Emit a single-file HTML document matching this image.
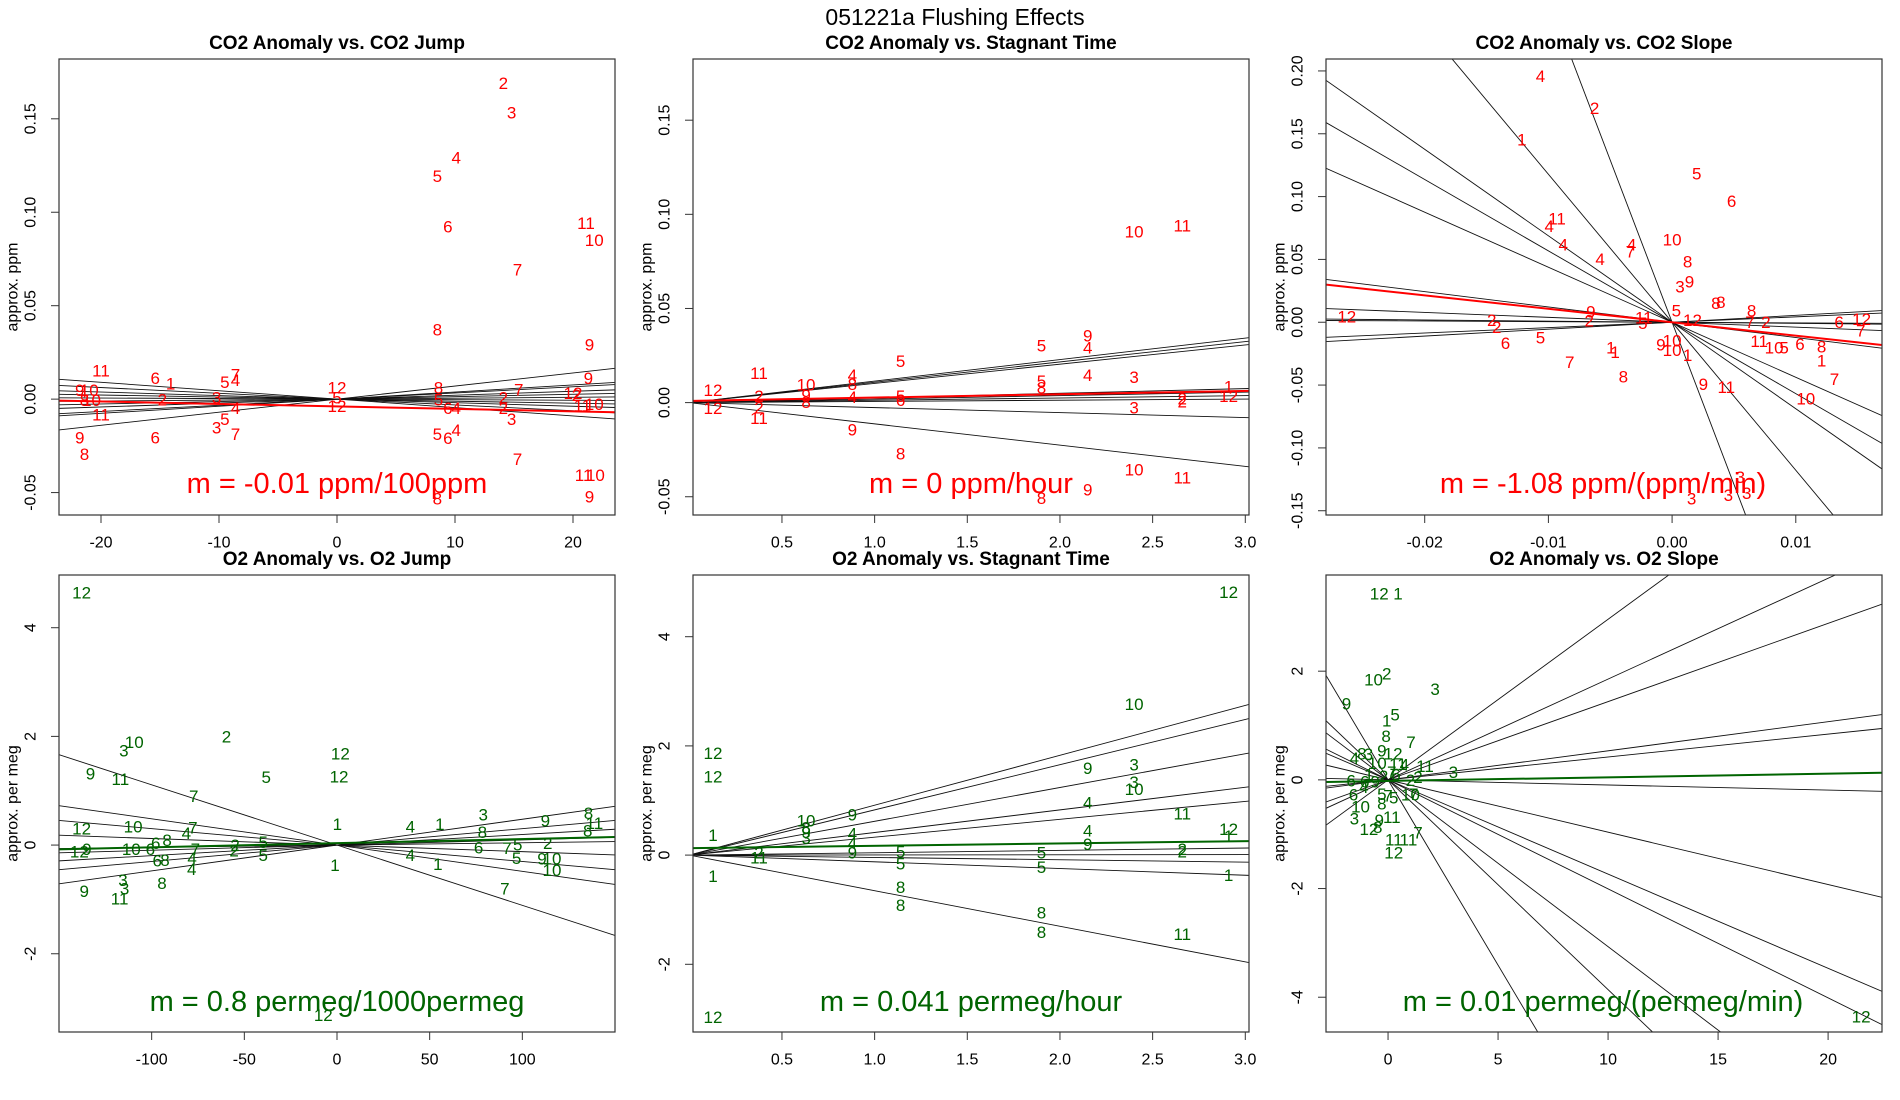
<!DOCTYPE html>
<html><head><meta charset="utf-8"><title>051221a Flushing Effects</title>
<style>
html,body{margin:0;padding:0;background:#fff;width:1900px;height:1100px;overflow:hidden;position:relative;}
svg{display:block;position:absolute;left:0;top:0;font-family:"Liberation Sans",sans-serif;overflow:hidden;}
</style></head>
<body>
<svg id="chart" width="1900" height="1100" viewBox="0 0 1900 1100" xmlns="http://www.w3.org/2000/svg">
<rect x="0" y="0" width="1900" height="1100" fill="#fff"/>
<text x="955" y="17" text-anchor="middle" dominant-baseline="central" font-size="23">051221a   Flushing Effects</text>
</svg>
<script>
// ---------- Panel 1: CO2 Anomaly vs. CO2 Jump ----------
const p1Labels = ["2","3","4","5","6","11","10","7","8","9","11","6","1","5","7","4","9","12","8","7","9","10","12","2","3","2","2","5","8","10","5","12","6","4","2","11","10","11","4","3","5","3","7","6","9","5","6","4","8","7","11","10","8","9"];
const p1X = [14.1,14.8,10.1,8.5,9.4,21.1,21.8,15.3,8.5,21.4,-20.0,-15.4,-14.1,-9.5,-8.6,-8.6,21.3,0,8.6,15.4,-21.8,-21.0,20.0,20.3,-10.2,-14.8,14.1,0,-21.4,-20.8,8.6,0,9.4,10.1,14.1,20.8,21.8,-20.0,-8.6,14.8,-9.5,-10.2,-8.6,-15.4,-21.8,8.5,9.4,10.1,-21.4,15.3,20.9,21.9,8.5,21.4];
const p1Y = [0.169,0.153,0.129,0.119,0.092,0.094,0.085,0.069,0.037,0.029,0.015,0.011,0.008,0.009,0.013,0.010,0.011,0.006,0.006,0.005,0.0045,0.0045,0.003,0.002,0.0006,-0.0004,0.0006,0.0006,-0.0008,-0.0008,-0.0004,-0.004,-0.005,-0.005,-0.005,-0.0036,-0.003,-0.0086,-0.005,-0.011,-0.011,-0.0154,-0.019,-0.0207,-0.0207,-0.019,-0.021,-0.0167,-0.0297,-0.0323,-0.0408,-0.0408,-0.0534,-0.0524];
const p1Slopes = [0.0007,0.00038,0.00033,0.00021,0.00013,0.00005,-0.00003,-0.00011,-0.00019,-0.00031,-0.00045];
const p1Fit = [-0.000132,-0.0039];

// ---------- Panel 2: CO2 Anomaly vs. Stagnant Time ----------
const p2Labels = ["10","11","9","5","4","5","4","3","11","10","4","8","5","8","12","1","2","4","5","6","2","2","12","12","2","3","11","9","8","10","11","9","8","9","8"];
const p2X = [2.40,2.66,2.15,1.90,2.15,1.14,2.15,2.40,0.376,0.63,0.88,0.88,1.90,1.90,0.128,2.91,0.376,0.88,1.14,1.14,2.66,2.66,2.91,0.128,0.376,2.40,0.376,0.88,1.14,2.40,2.66,2.15,1.90,0.63,0.63];
const p2Y = [0.0905,0.0937,0.0354,0.030,0.029,0.0218,0.0144,0.0134,0.0155,0.0093,0.0144,0.0097,0.0112,0.0078,0.0065,0.0084,0.0032,0.0028,0.0032,0.001,0.0019,0.0004,0.0032,-0.0032,-0.0028,-0.0028,-0.0084,-0.0146,-0.0274,-0.0358,-0.0401,-0.0463,-0.051,0.0037,0.0];
const p2Slopes = [0.01142,0.0108,0.0102,0.00248,0.00185,0.00123,0.00063,-0.00265,-0.0113];
const p2Fit = [0.00177,0.0009];

// ---------- Panel 3: CO2 Anomaly vs. CO2 Slope ----------
const p3Labels = ["4","2","1","5","6","11","4","10","4","4","7","4","8","9","3","8","8","8","5","12","2","9","2","11","5","12","2","7","2","6","12","7","5","6","11","10","5","6","8","1","1","9","10","10","1","1","7","8","7","9","11","10","3","3","3","3"];
const p3X = [-0.01064,-0.00626,-0.01215,0.00199,0.00481,-0.0093,-0.00993,0,-0.0088,-0.00327,-0.00337,-0.00582,0.00125,0.00141,0.00064,0.00354,0.00394,0.00643,0.00034,-0.0263,-0.01458,-0.00657,-0.0067,-0.00229,-0.00236,0.00165,0.00758,0.0063,-0.01418,0.0135,0.01532,0.01525,-0.01064,-0.01347,0.00704,0.00825,0.00906,0.01034,0.01209,-0.00495,-0.00461,-0.00091,0,0,0.00125,0.01209,-0.00828,-0.00394,0.01313,0.00253,0.00438,0.01081,0.00552,0.00455,0.00603,0.00158];
const p3Y = [0.1955,0.170,0.145,0.118,0.096,0.0821,0.076,0.0656,0.0615,0.0615,0.0559,0.05,0.048,0.032,0.028,0.0151,0.0159,0.0089,0.0089,0.0042,0.0014,0.0081,0.0011,0.0034,-0.0008,0.0014,-0.0003,-0.0003,-0.0042,-0.0003,0.002,-0.007,-0.0126,-0.0168,-0.0154,-0.0204,-0.0204,-0.0176,-0.0198,-0.0204,-0.024,-0.0182,-0.0148,-0.0223,-0.0265,-0.0307,-0.0321,-0.0436,-0.0455,-0.0497,-0.052,-0.0609,-0.1237,-0.1377,-0.1363,-0.1405];
const p3Slopes = [-25.8,-11.78,-6.88,-5.68,-4.38,-1.218,-0.39,-0.09,-0.05,0.429,0.55];
const p3Fit = [-1.07,0.0];

// ---------- Panel 4: O2 Anomaly vs. O2 Jump ----------
const p4Labels = ["12","2","10","3","12","9","11","5","12","7","3","8","9","11","1","4","1","12","10","7","4","8","8","6","8","2","5","2","12","9","10","6","7","2","6","7","5","5","4","6","8","4","5","9","10","1","1","4","10","3","3","8","9","7","11","12"];
const p4X = [-137.8,-59.6,-109.4,-115,1.8,-133,-116.9,-38.2,1.1,-77.3,78.9,135.7,112.4,138.9,0.2,39.6,55.5,-137.8,-110,-77.8,-81.3,78.4,135.3,-97.8,-91.7,-55,-39.8,113.7,-139,-135,-111,-100.7,-76.4,-55.5,76.4,91.7,97.5,-39.8,-78.2,-97,-92.8,39.6,96.9,110.6,116,54.4,-1.1,-78.4,116,-115.5,-114.6,-94.4,-136.4,90.6,-117.3,-7.4];
const p4Y = [4.64,1.99,1.89,1.73,1.68,1.31,1.21,1.24,1.25,0.89,0.55,0.58,0.44,0.4,0.375,0.33,0.375,0.3,0.33,0.31,0.21,0.23,0.26,0.03,0.08,-0.01,0.05,0.03,-0.13,-0.08,-0.08,-0.08,-0.08,-0.11,-0.05,-0.06,0,-0.19,-0.25,-0.29,-0.28,-0.19,-0.25,-0.26,-0.26,-0.36,-0.38,-0.45,-0.47,-0.65,-0.81,-0.71,-0.85,-0.81,-0.99,-3.14];
const p4Slopes = [0.00475,0.00302,0.00194,0.00095,0.00043,-0.00121,-0.00302,-0.00483,-0.01109];
const p4Fit = [0.000757,0.035];

// ---------- Panel 5: O2 Anomaly vs. Stagnant Time ----------
const p5Labels = ["12","12","12","10","9","3","3","10","4","11","9","10","8","9","3","4","4","1","12","1","4","9","9","5","5","2","2","2","11","5","5","1","1","8","8","8","8","11","12"];
const p5X = [2.91,0.128,0.128,2.40,2.15,2.40,2.40,2.40,2.15,2.66,0.88,0.63,0.63,0.63,0.63,0.88,0.88,0.128,2.91,2.91,2.15,2.15,0.88,1.14,1.90,2.66,2.66,0.376,0.376,1.14,1.90,0.128,2.91,1.14,1.14,1.90,1.90,2.66,0.128];
const p5Y = [4.81,1.86,1.43,2.76,1.59,1.65,1.33,1.2,0.95,0.75,0.73,0.62,0.5,0.41,0.3,0.39,0.21,0.36,0.47,0.34,0.44,0.19,0.04,0.06,0.04,0.1,0.06,0.04,-0.05,-0.16,-0.23,-0.39,-0.37,-0.59,-0.92,-1.06,-1.42,-1.45,-2.97];
const p5Slopes = [0.914,0.828,0.619,0.414,0.328,0.043,0.003,-0.043,-0.123,-0.652];
const p5Fit = [0.043,0.127];

// ---------- Panel 6: O2 Anomaly vs. O2 Slope ----------
const p6Labels = ["12","1","10","2","3","9","5","1","8","7","9","12","4","8","3","10","11","4","11","3","2","6","6","4","5","7","5","10","7","10","8","3","11","9","12","8","11","11","7","12","12","1","6","9","2","6","7","2"];
const p6X = [-0.4,0.45,-0.66,-0.06,2.14,-1.89,0.32,-0.06,-0.09,1.04,-0.28,0.23,-1.53,-1.19,-0.89,-0.49,0.45,0.74,1.68,2.97,1.36,-1.68,-1.57,-1.1,-0.28,0,0.26,1.02,1.17,-1.25,-0.28,-1.53,0.17,-0.4,-0.87,-0.47,0.26,0.93,1.36,0.26,21.5,-0.87,-1.06,-0.59,-0.2,0.36,0.17,1.02];
const p6Y = [3.42,3.42,1.84,1.95,1.66,1.4,1.19,1.08,0.8,0.69,0.53,0.48,0.39,0.48,0.47,0.3,0.28,0.27,0.25,0.14,0.04,-0.02,-0.28,-0.14,-0.27,-0.3,-0.33,-0.28,-0.27,-0.5,-0.44,-0.72,-0.69,-0.75,-0.91,-0.88,-1.11,-1.11,-0.98,-1.35,-4.36,0.09,-0.04,-0.04,0.06,0.09,0.14,-0.01];
const p6Slopes = [0.2955,0.1855,0.144,0.0535,0.0421,-0.0094,-0.0963,-0.1734,-0.2006,-0.307,-0.386,-0.682];
const p6Fit = [0.0067,-0.02];

// ---------- Axis tick values ----------
const p1XTicks = [-20,-10,0,10,20];
const co2YTicks = [-0.05,0,0.05,0.10,0.15];
const timeXTicks = [0.5,1.0,1.5,2.0,2.5,3.0];
const p3XTicks = [-0.02,-0.01,0,0.01];
const p3YTicks = [-0.15,-0.10,-0.05,0,0.05,0.10,0.15,0.20];
const p4XTicks = [-100,-50,0,50,100];
const o2YTicks = [-2,0,2,4];
const p6XTicks = [0,5,10,15,20];
const p6YTicks = [-4,-2,0,2];

const NS = "http://www.w3.org/2000/svg";
const svg = document.getElementById("chart");
function mk(tag, attrs, parent){
  const e = document.createElementNS(NS, tag);
  for (const k in attrs) e.setAttribute(k, attrs[k]);
  (parent||svg).appendChild(e);
  return e;
}
function fmt(v, d){ return v.toFixed(d); }

function panel(cfg){
  const [x0,y0,x1,y1] = cfg.box;
  const sx = v => x0 + (v - cfg.xr[0]) / (cfg.xr[1]-cfg.xr[0]) * (x1-x0);
  const sy = v => y1 - (v - cfg.yr[0]) / (cfg.yr[1]-cfg.yr[0]) * (y1-y0);
  const g = mk("g", {});
  
  
  const clipId = cfg.id + "-clip";
  const cp = mk("clipPath", {id: clipId}, g);
  mk("rect", {x:x0, y:y0, width:x1-x0, height:y1-y0}, cp);

  const t = mk("text", {x:(x0+x1)/2, y:y0-10, "text-anchor":"middle", "font-size":"19", "font-weight":"bold"}, g);
  
  
  t.textContent = cfg.title;

  const yl = mk("text", {x:0, y:0, transform:`translate(${x0-46},${(y0+y1)/2}) rotate(-90)`, "text-anchor":"middle", "dominant-baseline":"central", "font-size":"16"}, g);
  
  
  yl.textContent = cfg.ylab;

  cfg.xticks.forEach(v => {
    const X = sx(v);
    const tk = mk("line", {x1:X, x2:X, y1:y1, y2:y1+8, stroke:"#333", "stroke-width":1}, g);
    
    
    const tl = mk("text", {x:X, y:y1+28, "text-anchor":"middle", "dominant-baseline":"central", "font-size":"16"}, g);
    
    
    tl.textContent = fmt(v, cfg.xd);
  });
  cfg.yticks.forEach(v => {
    const Y = sy(v);
    const tk = mk("line", {x1:x0-8, x2:x0, y1:Y, y2:Y, stroke:"#333", "stroke-width":1}, g);
    
    
    const tl = mk("text", {x:0, y:0, transform:`translate(${x0-28},${Y}) rotate(-90)`, "text-anchor":"middle", "dominant-baseline":"central", "font-size":"16"}, g);
    
    
    tl.textContent = fmt(v, cfg.yd);
  });

  const inner = mk("g", {"clip-path":`url(#${clipId})`}, g);
  cfg.slopes.forEach(m => {
    const ln = mk("line", {x1:sx(cfg.xr[0]), y1:sy(m*cfg.xr[0]), x2:sx(cfg.xr[1]), y2:sy(m*cfg.xr[1]), stroke:"#111", "stroke-width":0.9}, inner);
    
    
  });
  cfg.labels.forEach((lab, i) => {
    const tx = mk("text", {x:sx(cfg.xs[i]), y:sy(cfg.ys[i]), "text-anchor":"middle", "dominant-baseline":"central", "font-size":"17", fill:cfg.color}, inner);
    
    
    tx.textContent = lab;
  });
  const [fm, fb] = cfg.fit;
  const fl = mk("line", {x1:sx(cfg.xr[0]), y1:sy(fm*cfg.xr[0]+fb), x2:sx(cfg.xr[1]), y2:sy(fm*cfg.xr[1]+fb), stroke:cfg.color, "stroke-width":2}, inner);
  
  

  const box = mk("rect", {x:x0, y:y0, width:x1-x0, height:y1-y0, fill:"none", stroke:"#333", "stroke-width":1.2}, g);
  
  

  const note = mk("text", {x:cfg.noteX, y:cfg.noteY, "text-anchor":"middle", "dominant-baseline":"central", "font-size":"29", fill:cfg.color}, g);
  
  
  note.textContent = cfg.note;
}

const RED = "#ff0000", GREEN = "#006400";
panel({id:"co2-jump", box:[59,59,615,515], xr:[-23.56,23.56], yr:[-0.062,0.182], xticks:p1XTicks, yticks:co2YTicks, xd:0, yd:2,
  title:"CO2 Anomaly vs. CO2 Jump", ylab:"approx. ppm", color:RED, labels:p1Labels, xs:p1X, ys:p1Y, slopes:p1Slopes, fit:p1Fit,
  note:"m = -0.01 ppm/100ppm", noteX:337, noteY:484});
panel({id:"co2-time", box:[693,59,1249,515], xr:[0.02,3.02], yr:[-0.0597,0.1825], xticks:timeXTicks, yticks:co2YTicks, xd:1, yd:2,
  title:"CO2 Anomaly vs. Stagnant Time", ylab:"approx. ppm", color:RED, labels:p2Labels, xs:p2X, ys:p2Y, slopes:p2Slopes, fit:p2Fit,
  note:"m = 0 ppm/hour", noteX:971, noteY:484});
panel({id:"co2-slope", box:[1326,59,1882,515], xr:[-0.02798,0.01697], yr:[-0.1534,0.2095], xticks:p3XTicks, yticks:p3YTicks, xd:2, yd:2,
  title:"CO2 Anomaly vs. CO2 Slope", ylab:"approx. ppm", color:RED, labels:p3Labels, xs:p3X, ys:p3Y, slopes:p3Slopes, fit:p3Fit,
  note:"m = -1.08 ppm/(ppm/min)", noteX:1603, noteY:484});
panel({id:"o2-jump", box:[59,575,615,1032], xr:[-150,150], yr:[-3.44,4.97], xticks:p4XTicks, yticks:o2YTicks, xd:0, yd:0,
  title:"O2 Anomaly vs. O2 Jump", ylab:"approx. per meg", color:GREEN, labels:p4Labels, xs:p4X, ys:p4Y, slopes:p4Slopes, fit:p4Fit,
  note:"m = 0.8 permeg/1000permeg", noteX:337, noteY:1002});
panel({id:"o2-time", box:[693,575,1249,1032], xr:[0.02,3.02], yr:[-3.24,5.13], xticks:timeXTicks, yticks:o2YTicks, xd:1, yd:0,
  title:"O2 Anomaly vs. Stagnant Time", ylab:"approx. per meg", color:GREEN, labels:p5Labels, xs:p5X, ys:p5Y, slopes:p5Slopes, fit:p5Fit,
  note:"m = 0.041 permeg/hour", noteX:971, noteY:1002});
panel({id:"o2-slope", box:[1326,575,1882,1032], xr:[-2.82,22.45], yr:[-4.64,3.77], xticks:p6XTicks, yticks:p6YTicks, xd:0, yd:0,
  title:"O2 Anomaly vs. O2 Slope", ylab:"approx. per meg", color:GREEN, labels:p6Labels, xs:p6X, ys:p6Y, slopes:p6Slopes, fit:p6Fit,
  note:"m = 0.01 permeg/(permeg/min)", noteX:1603, noteY:1002});
</script>
</body></html>
